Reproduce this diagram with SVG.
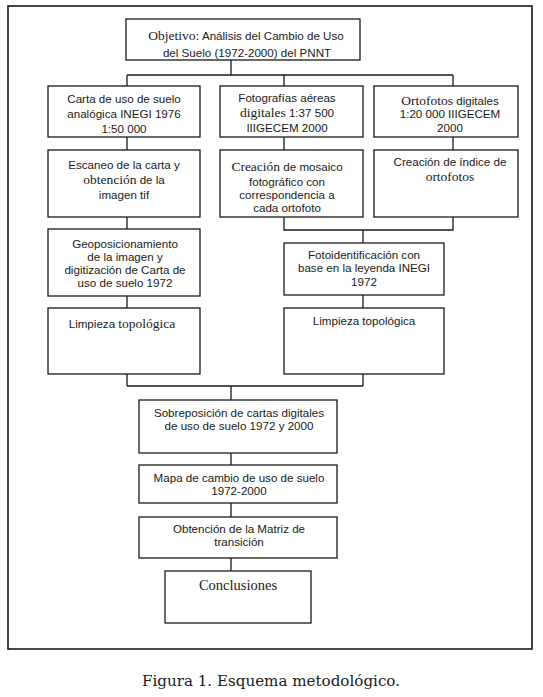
<svg xmlns="http://www.w3.org/2000/svg" width="543" height="697" viewBox="0 0 543 697">
<style>
.b{fill:#fff;stroke:#1a1a1a;stroke-width:1.3}
.c{fill:none;stroke:#1a1a1a;stroke-width:1.3}
text{font-family:"Liberation Sans",Arial,sans-serif;font-size:11.6px;fill:#1a1a1a;text-anchor:middle}
.s{font-family:"Liberation Serif","Times New Roman",serif;font-size:13.5px}
.cap{font-family:"DejaVu Serif",serif;font-size:15px;text-anchor:start}
</style>
<rect width="543" height="697" fill="#fff"/>
<rect x="8" y="6" width="524" height="643" fill="none" stroke="#1a1a1a" stroke-width="1.6"/>
<g id="connectors" class="c">
<path d="M231,60V75M127,75H453M127,75V86M284,75V86M453,75V86"/>
<path d="M127,137V150M284,137V150M453,137V150"/>
<path d="M127,217V229M127,296V308M127,374V386"/>
<path d="M284,217V230H453V217M363,230V243"/>
<path d="M363,295V308M363,374V386M127,386H363M231,386V400"/>
<path d="M231,453V465M231,503V517M231,558V571"/>
</g>
<g id="objetivo"><rect class="b" x="126" y="19" width="234" height="41"/>
<text x="246" y="39.5"><tspan class="s">Objetivo:</tspan> Análisis del Cambio de Uso</text>
<text x="247" y="56.5">del Suelo (1972-2000) del PNNT</text></g>
<g id="carta"><rect class="b" x="48" y="86" width="152" height="51"/>
<text x="124" y="103">Carta de uso de suelo</text>
<text x="124" y="118">analógica INEGI 1976</text>
<text x="124" y="133">1:50 000</text></g>
<g id="escaneo"><rect class="b" x="48" y="150" width="152" height="67"/>
<text x="124" y="169">Escaneo de la carta y</text>
<text x="124" y="184"><tspan class="s">obtención</tspan> de la</text>
<text x="124" y="199">imagen tif</text></g>
<g id="geo"><rect class="b" x="48" y="229" width="152" height="67"/>
<text x="125" y="248">Geoposicionamiento</text>
<text x="125" y="261">de la imagen y</text>
<text x="125" y="274">digitización de Carta de</text>
<text x="125" y="287">uso de suelo 1972</text></g>
<g id="limpieza1"><rect class="b" x="48" y="308" width="152" height="66"/>
<text x="122" y="328">Limpieza <tspan class="s">topológica</tspan></text></g>
<g id="fotografias"><rect class="b" x="220" y="86" width="143" height="51"/>
<text x="287" y="102">Fotografías aéreas</text>
<text x="287" y="117"><tspan class="s">digitales</tspan> 1:37 500</text>
<text x="287" y="132">IIIGECEM 2000</text></g>
<g id="mosaico"><rect class="b" x="220" y="150" width="143" height="67"/>
<text x="287" y="171"><tspan class="s">Creación</tspan> de mosaico</text>
<text x="287" y="185.5">fotográfico con</text>
<text x="287" y="199">correspondencia a</text>
<text x="287" y="212">cada ortofoto</text></g>
<g id="ortofotos"><rect class="b" x="374" y="86" width="144" height="51"/>
<text x="450" y="105"><tspan class="s">Ortofotos</tspan> digitales</text>
<text x="450" y="118">1:20 000 IIIGECEM</text>
<text x="450" y="132">2000</text></g>
<g id="indice"><rect class="b" x="374" y="150" width="144" height="67"/>
<text x="450" y="166">Creación de índice de</text>
<text x="450" y="181" class="s">ortofotos</text></g>
<g id="fotoid"><rect class="b" x="284" y="243" width="160" height="52"/>
<text x="364" y="259">Fotoidentificación con</text>
<text x="364" y="272">base en la leyenda INEGI</text>
<text x="364" y="286">1972</text></g>
<g id="limpieza2"><rect class="b" x="284" y="308" width="160" height="66"/>
<text x="364" y="325">Limpieza topológica</text></g>
<g id="sobreposicion"><rect class="b" x="139" y="400" width="198" height="53"/>
<text x="239" y="417">Sobreposición de cartas digitales</text>
<text x="239" y="430">de uso de suelo 1972 y 2000</text></g>
<g id="mapa"><rect class="b" x="139" y="465" width="198" height="38"/>
<text x="239" y="482">Mapa de cambio de uso de suelo</text>
<text x="239" y="495">1972-2000</text></g>
<g id="matriz"><rect class="b" x="139" y="517" width="198" height="41"/>
<text x="239" y="533">Obtención de la Matriz de</text>
<text x="239" y="546">transición</text></g>
<g id="conclusiones"><rect class="b" x="165" y="571" width="146" height="52"/>
<text x="238" y="590" class="s" style="font-size:14.5px">Conclusiones</text></g>
<text class="cap" x="142" y="686" textLength="258" lengthAdjust="spacingAndGlyphs">Figura 1. Esquema metodológico.</text>
</svg>
